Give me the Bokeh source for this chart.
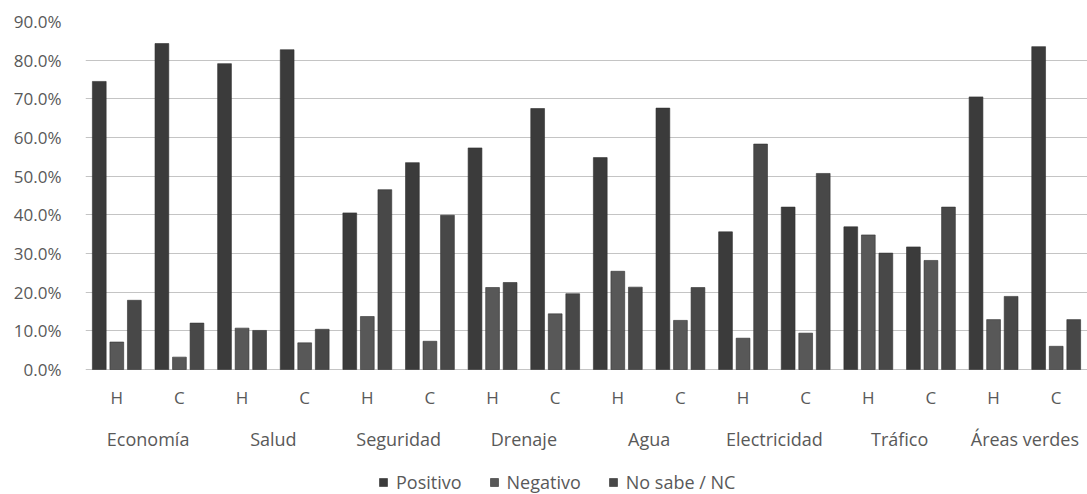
from bokeh.plotting import figure
from bokeh.models import (FactorRange, ColumnDataSource, Legend, LegendItem,
                          PrintfTickFormatter, FixedTicker, Range1d)
from bokeh.core.properties import value
from bokeh.transform import dodge
from bokeh.embed import file_html
from bokeh.resources import INLINE

categories = ["Economía", "Salud", "Seguridad", "Drenaje", "Agua", "Electricidad", "Tráfico", "Áreas verdes"]
subgroups = ["H", "C"]
positivo = [74.5, 84.3, 79.1, 82.7, 40.5, 53.5, 57.3, 67.5, 54.8, 67.6, 35.6, 42.0, 36.9, 31.7, 70.5, 83.5]
negativo = [7.1, 3.2, 10.7, 6.9, 13.7, 7.3, 21.2, 14.4, 25.4, 12.7, 8.1, 9.4, 34.8, 28.2, 12.9, 6.0]
no_sabe = [17.9, 12.0, 10.1, 10.4, 46.5, 39.9, 22.5, 19.6, 21.3, 21.2, 58.3, 50.7, 30.1, 42.0, 18.9, 12.9]
series_names = ["Positivo", "Negativo", "No sabe / NC"]
y_ticks = [0, 10, 20, 30, 40, 50, 60, 70, 80, 90]
colors = ["#3b3b3b", "#585858", "#484848"]

factors = [(c, s) for c in categories for s in subgroups]
src = ColumnDataSource(data=dict(x=factors, sub=[s for c, s in factors],
                                 pos=positivo, neg=negativo, ns=no_sabe))
cat_src = ColumnDataSource(data=dict(x=categories, label=categories))

FONT = "Open Sans"
TXT = "#595959"

# frame: top at 21px, 0% at 369px, frame continues to the bottom (494px) for axis labels + legend
Y_BOTTOM = -90 * (494 - 369) / (369 - 21)

p = figure(x_range=FactorRange(*factors, group_padding=0, factor_padding=0, range_padding=0),
           y_range=Range1d(Y_BOTTOM, 90), width=1087, height=494,
           frame_width=1002, frame_height=473, x_axis_location=None,
           output_backend="svg", toolbar_location=None,
           min_border_left=85, min_border_right=0, min_border_top=21, min_border_bottom=0)

renderers = []
for field, off, col in zip(["pos", "neg", "ns"], [-0.28, 0.0, 0.28], colors):
    r = p.vbar(x=dodge("x", off, range=p.x_range), top=field, width=0.22, source=src,
               fill_color=col, line_color="#303030", line_width=0.6)
    renderers.append(r)

# category axis labels (two levels), anchored at 0% and offset in pixels
p.text(x="x", y=0, text="sub", source=src, y_offset=28, text_align="center",
       text_baseline="middle", text_font=value(FONT), text_font_size="17px", text_color=TXT)
p.text(x="x", y=0, text="label", source=cat_src, y_offset=69, text_align="center",
       text_baseline="middle", text_font=value(FONT), text_font_size="18px", text_color=TXT)

p.outline_line_color = None
p.xgrid.grid_line_color = None

p.yaxis.ticker = FixedTicker(ticks=y_ticks)
p.ygrid.grid_line_color = "#c4c4c4"
p.ygrid.grid_line_width = 1
p.yaxis.formatter = PrintfTickFormatter(format="%.1f%%")
p.yaxis.axis_line_color = None
p.yaxis.major_tick_line_color = None
p.yaxis.minor_tick_line_color = None
p.yaxis.major_label_standoff = 18
p.yaxis.major_label_text_font = FONT
p.yaxis.major_label_text_font_size = "17px"
p.yaxis.major_label_text_color = TXT

legend = Legend(items=[LegendItem(label=n, renderers=[r]) for n, r in zip(series_names, renderers)],
                orientation="horizontal", location=(293, 0),
                label_text_font=FONT, label_text_font_size="18px", label_text_color=TXT,
                glyph_width=10, glyph_height=10, spacing=27, label_standoff=8,
                border_line_color=None, background_fill_alpha=0, padding=0, margin=0)
p.add_layout(legend, "center")

open("out.html", "w").write(file_html(p, INLINE))
